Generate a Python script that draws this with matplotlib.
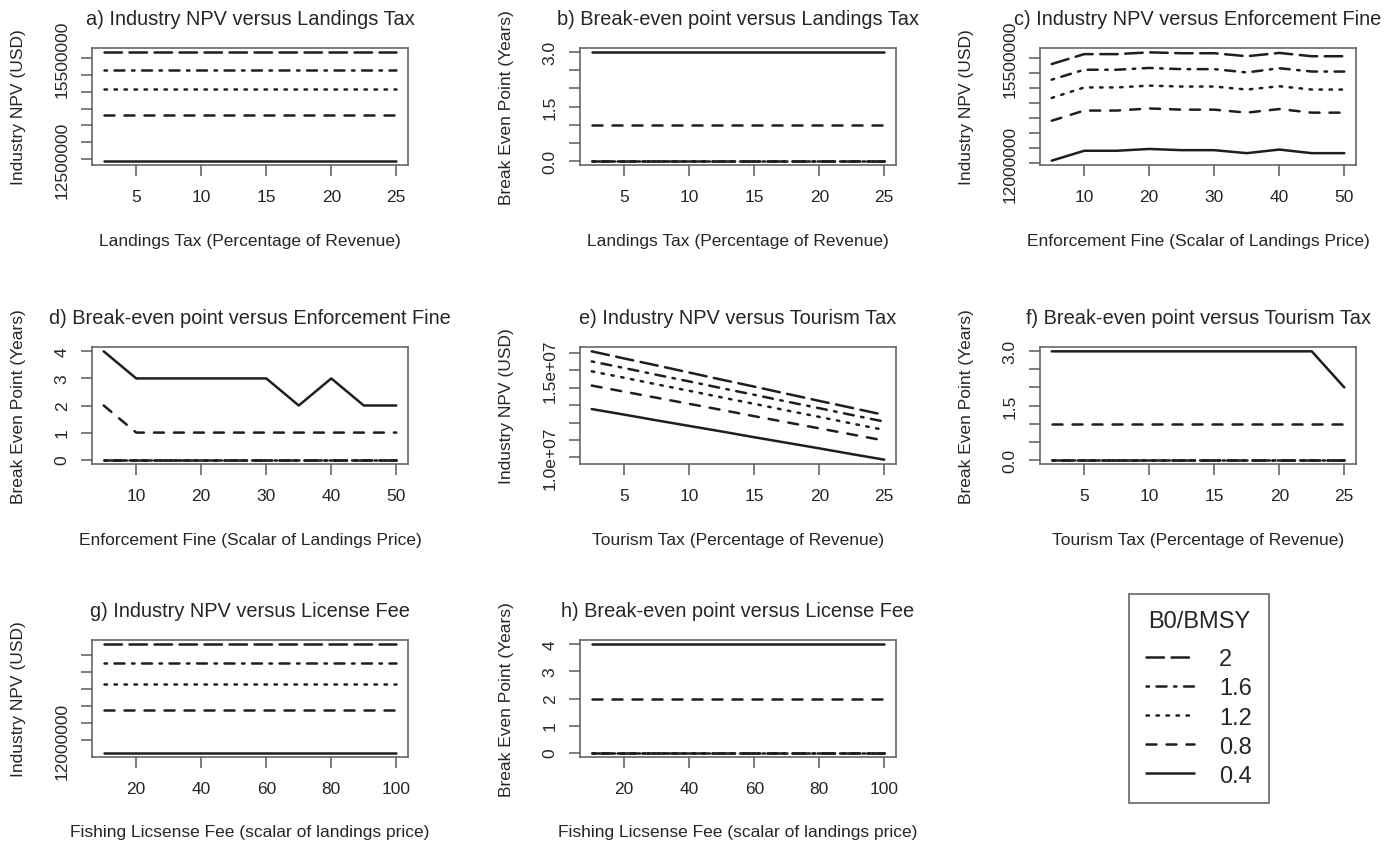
import matplotlib as mpl
mpl.use('Agg')
import matplotlib.pyplot as plt

plt.rcParams['font.family'] = ['Liberation Sans', 'DejaVu Sans']
plt.rcParams['axes.xmargin'] = 0.04
plt.rcParams['axes.ymargin'] = 0.04

# B0/BMSY scenarios, in legend order
b0_bmsy = ['2', '1.6', '1.2', '0.8', '0.4']

landings_tax = [2.5, 5, 7.5, 10, 12.5, 15, 17.5, 20, 22.5, 25]
tourism_tax = [2.5, 5, 7.5, 10, 12.5, 15, 17.5, 20, 22.5, 25]
enforcement_fine = [5, 10, 15, 20, 25, 30, 35, 40, 45, 50]
license_fee = [10, 20, 30, 40, 50, 60, 70, 80, 90, 100]

# one row per B0/BMSY (2, 1.6, 1.2, 0.8, 0.4)
npv_landings = [
    [15670000, 15670000, 15670000, 15670000, 15670000, 15670000, 15670000, 15670000, 15670000, 15670000],
    [15150000, 15150000, 15150000, 15150000, 15150000, 15150000, 15150000, 15150000, 15150000, 15150000],
    [14570000, 14570000, 14570000, 14570000, 14570000, 14570000, 14570000, 14570000, 14570000, 14570000],
    [13810000, 13810000, 13810000, 13810000, 13810000, 13810000, 13810000, 13810000, 13810000, 13810000],
    [12450000, 12450000, 12450000, 12450000, 12450000, 12450000, 12450000, 12450000, 12450000, 12450000],
]
breakeven_landings = [
    [0, 0, 0, 0, 0, 0, 0, 0, 0, 0],
    [0, 0, 0, 0, 0, 0, 0, 0, 0, 0],
    [0, 0, 0, 0, 0, 0, 0, 0, 0, 0],
    [1, 1, 1, 1, 1, 1, 1, 1, 1, 1],
    [3, 3, 3, 3, 3, 3, 3, 3, 3, 3],
]
npv_fine = [
    [15310000, 15640000, 15640000, 15700000, 15670000, 15670000, 15570000, 15680000, 15570000, 15570000],
    [14790000, 15120000, 15120000, 15180000, 15140000, 15140000, 15030000, 15170000, 15060000, 15060000],
    [14180000, 14530000, 14530000, 14590000, 14560000, 14560000, 14460000, 14570000, 14460000, 14460000],
    [13420000, 13760000, 13760000, 13830000, 13790000, 13790000, 13690000, 13810000, 13690000, 13690000],
    [12090000, 12420000, 12420000, 12480000, 12440000, 12440000, 12340000, 12460000, 12340000, 12340000],
]
breakeven_fine = [
    [0, 0, 0, 0, 0, 0, 0, 0, 0, 0],
    [0, 0, 0, 0, 0, 0, 0, 0, 0, 0],
    [0, 0, 0, 0, 0, 0, 0, 0, 0, 0],
    [2, 1, 1, 1, 1, 1, 1, 1, 1, 1],
    [4, 3, 3, 3, 3, 3, 2, 3, 2, 2],
]
npv_tourism = [
    [16100000, 15690000, 15290000, 14880000, 14470000, 14070000, 13660000, 13250000, 12850000, 12440000],
    [15520000, 15140000, 14750000, 14370000, 13980000, 13600000, 13210000, 12830000, 12440000, 12060000],
    [14950000, 14580000, 14200000, 13830000, 13450000, 13080000, 12700000, 12330000, 11950000, 11580000],
    [14130000, 13780000, 13430000, 13080000, 12730000, 12370000, 12020000, 11670000, 11320000, 10970000],
    [12780000, 12460000, 12130000, 11810000, 11490000, 11160000, 10840000, 10520000, 10190000, 9870000],
]
breakeven_tourism = [
    [0, 0, 0, 0, 0, 0, 0, 0, 0, 0],
    [0, 0, 0, 0, 0, 0, 0, 0, 0, 0],
    [0, 0, 0, 0, 0, 0, 0, 0, 0, 0],
    [1, 1, 1, 1, 1, 1, 1, 1, 1, 1],
    [3, 3, 3, 3, 3, 3, 3, 3, 3, 2],
]
npv_license = [
    [14810000, 14810000, 14810000, 14810000, 14810000, 14810000, 14810000, 14810000, 14810000, 14810000],
    [14250000, 14250000, 14250000, 14250000, 14250000, 14250000, 14250000, 14250000, 14250000, 14250000],
    [13660000, 13660000, 13660000, 13660000, 13660000, 13660000, 13660000, 13660000, 13660000, 13660000],
    [12880000, 12880000, 12880000, 12880000, 12880000, 12880000, 12880000, 12880000, 12880000, 12880000],
    [11640000, 11640000, 11640000, 11640000, 11640000, 11640000, 11640000, 11640000, 11640000, 11640000],
]
breakeven_license = [
    [0, 0, 0, 0, 0, 0, 0, 0, 0, 0],
    [0, 0, 0, 0, 0, 0, 0, 0, 0, 0],
    [0, 0, 0, 0, 0, 0, 0, 0, 0, 0],
    [2, 2, 2, 2, 2, 2, 2, 2, 2, 2],
    [4, 4, 4, 4, 4, 4, 4, 4, 4, 4],
]

# axis ticks (R drops labels that would overlap)
ticks_5_25 = [5, 10, 15, 20, 25]
ticks_10_50 = [10, 20, 30, 40, 50]
ticks_20_100 = [20, 40, 60, 80, 100]
yt_npv_a = [12500000, 13000000, 13500000, 14000000, 14500000, 15000000, 15500000]
yl_npv_a = ['12500000', '', '', '', '', '', '15500000']
yt_npv_c = [12000000, 12500000, 13000000, 13500000, 14000000, 14500000, 15000000, 15500000]
yl_npv_c = ['12000000', '', '', '', '', '', '', '15500000']
yt_npv_e = [10000000, 11000000, 12000000, 13000000, 14000000, 15000000, 16000000]
yl_npv_e = ['1.0e+07', '', '', '', '', '1.5e+07', '']
yt_npv_g = [12000000, 12500000, 13000000, 13500000, 14000000, 14500000]
yl_npv_g = ['12000000', '', '', '', '', '']
yt_be_3 = [0, 0.5, 1, 1.5, 2, 2.5, 3]
yl_be_3 = ['0.0', '', '', '1.5', '', '', '3.0']
yt_be_4 = [0, 1, 2, 3, 4]
yl_be_4 = ['0', '1', '2', '3', '4']

LW = 1.8
LINE = '#1e1e1e'
TEXT = '#262626'
BOX = '#5a5a5a'
styles = [(0, (7, 3)), (0, (1, 3, 4, 3)), (0, (1, 3)), (0, (4, 4)), '-']

W, H = 1397.0, 845.0
col_left = [92, 580, 1040]
row_top = [49, 348, 641]
AW, AH = 316, 117


def make_axes(fig, row, col):
    l = col_left[col] / W
    b = 1 - (row_top[row] + AH) / H
    return fig.add_axes([l, b, AW / W, AH / H])


def draw_panel(ax, x, series, title, xlabel, ylabel, xticks, yticks, ylabels):
    handles = []
    for ys, ls in zip(series, styles):
        h, = ax.plot(x, ys, color=LINE, lw=LW, linestyle=ls,
                     dash_capstyle='round', solid_capstyle='round')
        handles.append(h)
    ax.set_title(title, fontsize=14.4, color=TEXT, pad=17)
    ax.set_xticks(xticks, [str(t) for t in xticks])
    ax.set_yticks(yticks, ylabels, rotation=90, va='center')
    ax.tick_params(length=8, width=1.1, color=BOX, labelsize=12.5,
                   labelcolor=TEXT, pad=9)
    ax.tick_params(axis='y', pad=8)
    for sp in ax.spines.values():
        sp.set_color(BOX)
        sp.set_linewidth(1.1)
    ax.set_xlabel(xlabel, fontsize=12.5, color=TEXT, va='center')
    ax.set_ylabel(ylabel, fontsize=12.5, color=TEXT, va='center')
    ax.xaxis.set_label_coords(0.5, -75.0 / AH)
    ax.yaxis.set_label_coords(-74.0 / AW, 0.5)
    return handles


def get_plot():
    fig = plt.figure(figsize=(13.97, 8.45), dpi=100)

    npv_lab = 'Industry NPV (USD)'
    be_lab = 'Break Even Point (Years)'

    handles = draw_panel(make_axes(fig, 0, 0), landings_tax, npv_landings,
                         'a) Industry NPV versus Landings Tax',
                         'Landings Tax (Percentage of Revenue)', npv_lab,
                         ticks_5_25, yt_npv_a, yl_npv_a)
    draw_panel(make_axes(fig, 0, 1), landings_tax, breakeven_landings,
               'b) Break-even point versus Landings Tax',
               'Landings Tax (Percentage of Revenue)', be_lab,
               ticks_5_25, yt_be_3, yl_be_3)
    draw_panel(make_axes(fig, 0, 2), enforcement_fine, npv_fine,
               'c) Industry NPV versus Enforcement Fine',
               'Enforcement Fine (Scalar of Landings Price)', npv_lab,
               ticks_10_50, yt_npv_c, yl_npv_c)
    draw_panel(make_axes(fig, 1, 0), enforcement_fine, breakeven_fine,
               'd) Break-even point versus Enforcement Fine',
               'Enforcement Fine (Scalar of Landings Price)', be_lab,
               ticks_10_50, yt_be_4, yl_be_4)
    draw_panel(make_axes(fig, 1, 1), tourism_tax, npv_tourism,
               'e) Industry NPV versus Tourism Tax',
               'Tourism Tax (Percentage of Revenue)', npv_lab,
               ticks_5_25, yt_npv_e, yl_npv_e)
    draw_panel(make_axes(fig, 1, 2), tourism_tax, breakeven_tourism,
               'f) Break-even point versus Tourism Tax',
               'Tourism Tax (Percentage of Revenue)', be_lab,
               ticks_5_25, yt_be_3, yl_be_3)
    draw_panel(make_axes(fig, 2, 0), license_fee, npv_license,
               'g) Industry NPV versus License Fee',
               'Fishing Licsense Fee (scalar of landings price)', npv_lab,
               ticks_20_100, yt_npv_g, yl_npv_g)
    draw_panel(make_axes(fig, 2, 1), license_fee, breakeven_license,
               'h) Break-even point versus License Fee',
               'Fishing Licsense Fee (scalar of landings price)', be_lab,
               ticks_20_100, yt_be_4, yl_be_4)

    leg = fig.legend(handles, b0_bmsy, title='B0/BMSY', loc='center',
                     bbox_to_anchor=(1199 / W, 1 - 699.5 / H),
                     fontsize=17, title_fontsize=17, fancybox=False,
                     edgecolor=BOX, framealpha=1, handlelength=2.05,
                     handletextpad=1.05, labelspacing=0.3, borderpad=0.7)
    leg.get_frame().set_linewidth(1.1)
    # a bit more room between the title and the entries, like the original
    leg._legend_box.sep = 0.3 * 17 + 6.5
    for t in leg.get_texts():
        t.set_color(TEXT)
    leg.get_title().set_color(TEXT)

    fig.savefig('out.png', dpi=100)
    plt.close(fig)


if __name__ == '__main__':
    get_plot()
